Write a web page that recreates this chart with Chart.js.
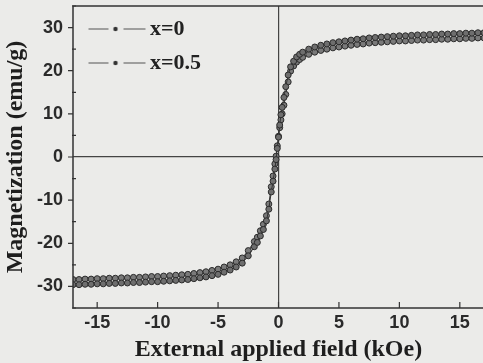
<!DOCTYPE html>
<html>
<head>
<meta charset="utf-8">
<script src="https://cdn.jsdelivr.net/npm/chart.js@4/dist/chart.umd.min.js"></script>
<style>
  html, body { margin: 0; padding: 0; background: #ebebe9; overflow: hidden; }
  #wrap { width: 490px; height: 363px; }
</style>
</head>
<body>
<div id="wrap"><canvas id="myChart" width="490" height="363"></canvas></div>
<script>
// External applied field (kOe)
const field = [
  -17, -16.5, -16, -15.5, -15, -14.5, -14, -13.5, -13, -12.5, -12, -11.5, -11, -10.5, -10, -9.5,
  -9, -8.5, -8, -7.5, -7, -6.5, -6, -5.5, -5, -4.5, -4, -3.5, -3, -2.5, -2,
  -1.75, -1.5, -1.25, -1, -0.8, -0.6, -0.45, -0.3, -0.2, -0.1,
  0,
  0.1, 0.2, 0.3, 0.45, 0.6, 0.8, 1, 1.25, 1.5, 1.75,
  2, 2.5, 3, 3.5, 4, 4.5, 5, 5.5, 6, 6.5, 7, 7.5, 8, 8.5, 9, 9.5,
  10, 10.5, 11, 11.5, 12, 12.5, 13, 13.5, 14, 14.5, 15, 15.5, 16, 16.5, 17
];

// Magnetization (emu/g), x=0
const magX0 = [
  -29.6, -29.6, -29.5, -29.5, -29.4, -29.4, -29.3, -29.3, -29.2, -29.2, -29.1, -29.1, -29.0, -28.9, -28.9, -28.8,
  -28.7, -28.6, -28.5, -28.4, -28.2, -28.0, -27.8, -27.5, -27.2, -26.7, -26.2, -25.5, -24.6, -22.9, -20.8,
  -19.8, -18.3, -16.8, -14.8, -12.1, -8.1, -5.6, -2.8, -0.6, 2.0,
  4.6,
  7.4, 9.8, 11.5, 13.8, 16.3, 19.0, 20.9, 22.2, 23.2, 23.8,
  24.3, 25.0, 25.5, 25.9, 26.2, 26.5, 26.7, 26.9, 27.1, 27.3, 27.4, 27.6, 27.7, 27.8, 27.9, 28.0,
  28.1, 28.1, 28.2, 28.3, 28.3, 28.4, 28.4, 28.5, 28.5, 28.6, 28.6, 28.7, 28.7, 28.8, 28.8
];

// Magnetization (emu/g), x=0.5
const magX05 = [
  -28.4, -28.4, -28.3, -28.3, -28.2, -28.2, -28.1, -28.1, -28.0, -28.0, -27.9, -27.9, -27.8, -27.7, -27.7, -27.6,
  -27.5, -27.4, -27.3, -27.2, -27.0, -26.8, -26.6, -26.3, -26.0, -25.5, -25.0, -24.3, -23.4, -21.7, -19.6,
  -18.6, -17.1, -15.6, -13.6, -10.9, -6.9, -4.4, -1.6, 0.2, 2.6,
  4.8,
  6.8, 8.6, 10.0, 12.0, 14.5, 17.4, 19.9, 21.1, 22.0, 22.6,
  23.1, 23.8, 24.3, 24.7, 25.0, 25.3, 25.5, 25.7, 25.9, 26.1, 26.2, 26.4, 26.5, 26.6, 26.7, 26.8,
  26.9, 26.9, 27.0, 27.1, 27.1, 27.2, 27.2, 27.3, 27.3, 27.4, 27.4, 27.5, 27.5, 27.6, 27.6
];

const seriesLabels = ['x=0', 'x=0.5'];
const xTicks = [-15, -10, -5, 0, 5, 10, 15];
const yTicks = [-30, -20, -10, 0, 10, 20, 30];
const yMinorTicks = [-35, -25, -15, -5, 5, 15, 25, 35];

const ink = '#333';
const serif = '"Liberation Serif", "Times New Roman", serif';
const sans = '"Liberation Sans", Arial, sans-serif';

function toPoints(ys) {
  return field.map(function (h, i) { return { x: h, y: ys[i] }; });
}

// legend sample: dash - dot - dash
function legendSample() {
  const c = document.createElement('canvas');
  c.width = 74;
  c.height = 10;
  const g = c.getContext('2d');
  g.strokeStyle = '#555';
  g.lineWidth = 1.2;
  g.beginPath();
  g.moveTo(13, 5); g.lineTo(33, 5);
  g.moveTo(48, 5); g.lineTo(70, 5);
  g.stroke();
  g.fillStyle = '#333';
  g.beginPath();
  g.arc(40, 5, 2.2, 0, Math.PI * 2);
  g.fill();
  return c;
}
const sampleImg = legendSample();

// frame and tick marks
const framePlugin = {
  id: 'frame',
  afterLayout(chart) {
    // keep legend inside the top-left corner of the plot
    const lg = chart.legend;
    const h = lg.bottom - lg.top;
    const w = lg.right - lg.left;
    lg.top = chart.chartArea.top;
    lg.bottom = lg.top + h;
    lg.left = chart.chartArea.left + 1;
    lg.right = lg.left + w;
  },
  afterDraw(chart) {
    const ctx = chart.ctx;
    const a = chart.chartArea;
    const xs = chart.scales.x;
    const ys = chart.scales.y;
    ctx.save();
    ctx.strokeStyle = ink;
    ctx.lineWidth = 1.5;
    ctx.strokeRect(a.left, a.top, a.right - a.left, a.bottom - a.top);
    ctx.lineWidth = 1.2;
    ctx.beginPath();
    xTicks.forEach(function (v) {
      const px = xs.getPixelForValue(v);
      ctx.moveTo(px, a.bottom);
      ctx.lineTo(px, a.bottom - 6);
    });
    yTicks.forEach(function (v) {
      const py = ys.getPixelForValue(v);
      ctx.moveTo(a.left - 5, py);
      ctx.lineTo(a.left, py);
    });
    yMinorTicks.forEach(function (v) {
      const py = ys.getPixelForValue(v);
      ctx.moveTo(a.left - 1, py);
      ctx.lineTo(a.left + 3, py);
    });
    ctx.stroke();
    ctx.restore();
  }
};

const ctx = document.getElementById('myChart').getContext('2d');

const chart = new Chart(ctx, {
  type: 'line',
  data: {
    datasets: [{
      label: seriesLabels[0],
      data: toPoints(magX0),
      borderColor: '#333',
      borderWidth: 1,
      pointRadius: 3,
      pointBackgroundColor: '#6e6e6e',
      pointBorderColor: '#2a2a2a',
      pointBorderWidth: 1
    },
    {
      label: seriesLabels[1],
      data: toPoints(magX05),
      borderColor: '#333',
      borderWidth: 1,
      pointRadius: 3,
      pointBackgroundColor: '#7a7a7a',
      pointBorderColor: '#2a2a2a',
      pointBorderWidth: 1
    }]
  },
  options: {
    responsive: false,
    animation: false,
    layout: { padding: { left: 0, top: 6, right: 6, bottom: 0 } },
    plugins: {
      tooltip: { enabled: false },
      legend: {
        position: 'chartArea',
        align: 'start',
        labels: {
          usePointStyle: true,
          pointStyleWidth: 53,
          padding: 12,
          color: '#222',
          font: { family: serif, size: 22, weight: 'bold' },
          generateLabels: function (c) {
            return Chart.defaults.plugins.legend.labels.generateLabels(c).map(function (item) {
              item.pointStyle = sampleImg;
              return item;
            });
          }
        }
      }
    },
    scales: {
      x: {
        type: 'linear',
        min: -17,
        max: 17,
        afterBuildTicks: function (s) { s.ticks = xTicks.map(function (v) { return { value: v }; }); },
        afterFit: function (s) { s.height = 55; s.paddingLeft = 0; s.paddingRight = 0; },
        grid: {
          drawTicks: false,
          lineWidth: 1.2,
          color: function (c) { return c.tick && c.tick.value === 0 ? '#444' : 'transparent'; }
        },
        border: { display: false },
        ticks: {
          padding: 4,
          color: '#2a2a2a',
          font: { family: sans, size: 18, weight: 'bold' }
        },
        title: {
          display: true,
          text: 'External applied field (kOe)',
          color: '#1e1e1e',
          padding: 0,
          font: { family: serif, size: 24, weight: 'bold', lineHeight: 1.1 }
        }
      },
      y: {
        type: 'linear',
        min: -35,
        max: 35,
        afterBuildTicks: function (s) { s.ticks = yTicks.map(function (v) { return { value: v }; }); },
        afterFit: function (s) { s.width = 73; s.paddingTop = 0; s.paddingBottom = 0; },
        grid: {
          drawTicks: false,
          lineWidth: 1.2,
          color: function (c) { return c.tick && c.tick.value === 0 ? '#444' : 'transparent'; }
        },
        border: { display: false },
        ticks: {
          padding: 10,
          color: '#2a2a2a',
          font: { family: sans, size: 18, weight: 'bold' }
        },
        title: {
          display: true,
          text: 'Magnetization (emu/g)',
          color: '#1e1e1e',
          padding: { top: 3, bottom: 3 },
          font: { family: serif, size: 24, weight: 'bold', lineHeight: 1.1 }
        }
      }
    }
  },
  plugins: [framePlugin]
});
</script>
</body>
</html>
